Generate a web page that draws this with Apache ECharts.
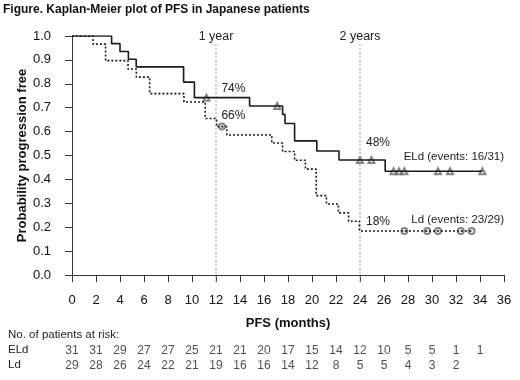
<!DOCTYPE html>
<html>
<head>
<meta charset="utf-8">
<script src="https://cdn.jsdelivr.net/npm/echarts@6/dist/echarts.min.js"></script>
<style>
  html, body { margin: 0; padding: 0; background: #fff; }
  #chart { width: 520px; height: 380px; }
</style>
</head>
<body>
<div id="chart"></div>
<script>
// step points (time in months, survival)
const eldTime = [0, 3.3, 4.0, 4.7, 5.35, 9.3, 10.2, 14.8, 17.55, 17.75, 18.55, 20.4, 22.25, 26.1, 34.2];
const eldSurv = [1.0, 0.968, 0.935, 0.903, 0.871, 0.807, 0.742, 0.707, 0.672, 0.634, 0.561, 0.519, 0.481, 0.434, 0.434];
const eldCensorTime = [11.2, 17.1, 24.0, 24.95, 26.8, 27.25, 27.7, 30.5, 31.5, 34.2];
const eldCensorSurv = [0.742, 0.707, 0.481, 0.481, 0.434, 0.434, 0.434, 0.434, 0.434, 0.434];

const ldTime = [0, 1.75, 2.8, 4.67, 5.36, 6.47, 9.33, 11.1, 12.05, 12.9, 16.65, 17.55, 18.55, 19.45, 20.35, 21.2, 22.2, 23.05, 23.95, 33.3];
const ldSurv = [1.0, 0.966, 0.897, 0.862, 0.828, 0.759, 0.724, 0.655, 0.621, 0.586, 0.552, 0.517, 0.48, 0.443, 0.332, 0.297, 0.26, 0.225, 0.184, 0.184];
const ldCensorTime = [12.5, 27.7, 29.6, 30.5, 32.4, 33.3];
const ldCensorSurv = [0.621, 0.184, 0.184, 0.184, 0.184, 0.184];

// reference lines
const yearMarks = [12, 24];
const yearLabels = ['1 year', '2 years'];

// patients at risk, every 2 months from 0
const riskMonths = [0, 2, 4, 6, 8, 10, 12, 14, 16, 18, 20, 22, 24, 26, 28, 30, 32, 34];
const riskELd = [31, 31, 29, 27, 27, 25, 21, 21, 20, 17, 15, 14, 12, 10, 5, 5, 1, 1];
const riskLd = [29, 28, 26, 24, 22, 21, 19, 16, 16, 14, 12, 8, 5, 5, 4, 3, 2];

const font = 'Liberation Sans, Arial, sans-serif';
const ink = '#1a1a1a';

function zip(xs, ys) {
    return xs.map((x, i) => [x, ys[i]]);
}

let chart = echarts.init(document.getElementById('chart'));

let yearSeries = yearMarks.map((m, i) => ({
    name: yearLabels[i], type: 'line', symbol: 'none', clip: false, silent: true,
    data: [[m, -0.03], [m, 0.965]],
    lineStyle: { color: '#9a9a9a', width: 1, type: [2, 2] },
    markPoint: {
        symbolSize: 0,
        label: { position: 'inside', fontSize: 12.5, color: '#222' },
        data: [{ coord: [m, 0.997], value: yearLabels[i] }]
    }
}));

let option = {
    animation: false,
    textStyle: { fontFamily: font },
    title: {
        text: 'Figure. Kaplan-Meier plot of PFS in Japanese patients',
        left: 3,
        top: 4,
        padding: 0,
        textStyle: { fontSize: 12, fontWeight: 'bold', color: '#111', fontFamily: font }
    },
    grid: [
        { left: 72, right: 16, top: 36, bottom: 105 },
        { left: 72, right: 16, top: 351, height: 15 }
    ],
    xAxis: [
        {
            type: 'value', min: 0, max: 36, interval: 2, offset: 7,
            axisLine: { lineStyle: { color: '#333', width: 1 } },
            axisTick: { length: 7, lineStyle: { color: '#333' } },
            axisLabel: { fontSize: 13, color: '#111', margin: 12 },
            splitLine: { show: false },
            name: 'PFS (months)', nameLocation: 'middle', nameGap: 35, nameMoveOverlap: false,
            nameTextStyle: { fontSize: 13, fontWeight: 'bold', color: '#111' }
        },
        { gridIndex: 1, type: 'value', min: 0, max: 36, show: false }
    ],
    yAxis: [
        {
            type: 'value', min: 0, max: 1, interval: 0.1, offset: 8,
            axisLine: { show: true, lineStyle: { color: '#333', width: 1 } },
            axisTick: { show: true, length: 7, lineStyle: { color: '#333' } },
            axisLabel: { fontSize: 13, color: '#111', margin: 13, formatter: v => v.toFixed(1) },
            splitLine: { show: false },
            name: 'Probability progression free', nameLocation: 'middle', nameGap: 35, nameMoveOverlap: false,
            nameTextStyle: { fontSize: 13, fontWeight: 'bold', color: '#111' }
        },
        { gridIndex: 1, type: 'value', min: 0, max: 1, show: false }
    ],
    graphic: [
        { type: 'text', left: 8, top: 329, style: { text: 'No. of patients at risk:', font: '11.5px ' + font, fill: '#222' } },
        { type: 'text', left: 8, top: 344, style: { text: 'ELd', font: '11.5px ' + font, fill: '#222' } },
        { type: 'text', left: 8, top: 359, style: { text: 'Ld', font: '11.5px ' + font, fill: '#222' } }
    ],
    series: [
        ...yearSeries,
        {
            name: 'ELd', type: 'line', step: 'end', symbol: 'none',
            data: zip(eldTime, eldSurv),
            lineStyle: { color: ink, width: 1.6 },
            markPoint: {
                symbolSize: 0,
                label: { position: 'right', distance: 0, fontSize: 12, color: '#222' },
                data: [
                    { coord: [12.45, 0.778], value: '74%' },
                    { coord: [24.5, 0.552], value: '48%' },
                    { coord: [36.0, 0.493], value: 'ELd (events: 16/31)', label: { position: 'left', fontSize: 11.5 } }
                ]
            }
        },
        {
            name: 'Ld', type: 'line', step: 'end', symbol: 'none',
            data: zip(ldTime, ldSurv),
            lineStyle: { color: ink, width: 1.6, type: [2, 2] },
            markPoint: {
                symbolSize: 0,
                label: { position: 'right', distance: 0, fontSize: 12, color: '#222' },
                data: [
                    { coord: [12.45, 0.665], value: '66%' },
                    { coord: [24.5, 0.225], value: '18%' },
                    { coord: [36.0, 0.229], value: 'Ld (events: 23/29)', label: { position: 'left', fontSize: 11.5 } }
                ]
            }
        },
        {
            name: 'ELd censored', type: 'scatter', symbol: 'emptyTriangle', symbolSize: 6,
            data: zip(eldCensorTime, eldCensorSurv),
            itemStyle: { color: '#666', borderWidth: 0.9 }
        },
        {
            name: 'Ld censored', type: 'scatter', symbol: 'emptyCircle', symbolSize: 6,
            data: zip(ldCensorTime, ldCensorSurv),
            itemStyle: { color: '#666', borderWidth: 0.9 }
        },
        {
            name: 'Ld censored dot', type: 'scatter', symbol: 'circle', symbolSize: 1.6,
            data: zip(ldCensorTime, ldCensorSurv),
            itemStyle: { color: '#555' }
        },
        {
            name: 'ELd at risk', type: 'scatter', xAxisIndex: 1, yAxisIndex: 1, symbolSize: 0,
            data: riskELd.map((n, i) => [riskMonths[i], 1, n]),
            label: { show: true, position: 'inside', formatter: p => p.value[2], fontSize: 12, color: '#222' }
        },
        {
            name: 'Ld at risk', type: 'scatter', xAxisIndex: 1, yAxisIndex: 1, symbolSize: 0,
            data: riskLd.map((n, i) => [riskMonths[i], 0, n]),
            label: { show: true, position: 'inside', formatter: p => p.value[2], fontSize: 12, color: '#222' }
        }
    ]
};
chart.setOption(option);
</script>
</body>
</html>
